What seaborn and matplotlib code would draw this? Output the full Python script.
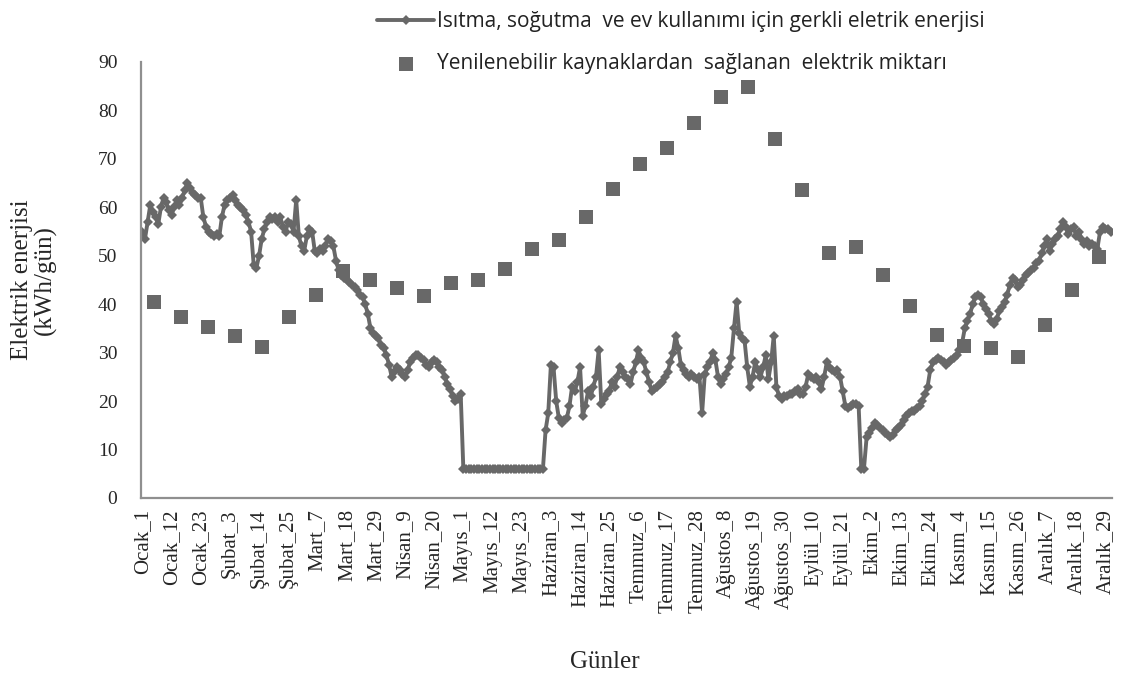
import numpy as np
import pandas as pd
import matplotlib
matplotlib.use("Agg")
import matplotlib.pyplot as plt
import seaborn as sns

# ─── Data ─────────────────────────────────────────────────────────────────────
MONTHS     = ["Ocak", "Şubat", "Mart", "Nisan", "Mayıs", "Haziran",
              "Temmuz", "Ağustos", "Eylül", "Ekim", "Kasım", "Aralık"]
MONTH_DAYS = [31, 29, 31, 30, 31, 30, 31, 31, 30, 31, 30, 31]

# daily electricity need for heating, cooling and household use (kWh/day)
ocak    = [55, 53.5, 57, 60.5, 59, 58, 56.5, 60, 62, 61, 59.5, 58.5, 60, 61.5, 60.5, 62,
           63.5, 65, 64, 63, 62.5, 62, 62, 58, 56, 55, 54.5, 54, 54.5, 54, 58]
subat   = [60.5, 61.5, 62, 62.5, 61.5, 60.5, 60, 59.5, 58.5, 57, 55, 48, 47.5, 50, 53.5,
           55.5, 57, 58, 57.5, 58, 57, 58, 56, 55, 57, 56.5, 55, 61.5, 54]
mart    = [52, 51, 54, 55.5, 55, 51, 50.5, 51.5, 51, 52, 53.5, 53, 52, 49, 47, 46, 45.5,
           45, 44.5, 44, 43.5, 43, 42, 41.5, 40, 38, 35, 34, 33.5, 33, 31.5]
nisan   = [31, 29.5, 27.5, 25, 26, 27, 26.5, 25.5, 25, 26.5, 28, 29, 29.5, 29.5, 29, 28.5,
           27.5, 27, 28, 28.5, 28, 27, 26.5, 25, 23.5, 22.5, 21, 20, 20.5, 21.5]
mayis   = [6] * 31
haziran = [14, 17.5, 27.5, 27, 20, 16.5, 15.5, 16, 16.5, 19, 23, 22, 24, 27, 17, 19, 22,
           21, 23, 25, 30.5, 19.5, 20.5, 21.5, 22, 24, 23, 25, 27, 26]
temmuz  = [25, 24.5, 23.5, 26, 28, 30.5, 29, 28, 26, 24, 22, 22.5, 23, 23.5, 24, 25, 26,
           28, 30, 33.5, 31, 27.5, 26.5, 25.5, 25, 25.5, 25, 24.5, 25, 17.5, 25.5]
agustos = [27, 28, 30, 28.5, 25, 23.5, 24.5, 25.5, 27, 29, 35, 40.5, 34, 33, 32.5, 27, 23,
           25, 28, 26.5, 25, 27, 29.5, 24.5, 28, 33.5, 23, 21, 20.5, 21, 21]
eylul   = [21.5, 21.5, 22, 22.5, 21.5, 21.5, 23, 25.5, 25, 24.5, 25, 24, 22.5, 25, 28, 27,
           26.5, 26, 26.5, 25, 22, 19, 18.5, 19, 19.5, 19.5, 19, 6, 6, 12.5]
ekim    = [13.5, 14.5, 15.5, 15, 14.5, 14, 13.5, 13, 12.5, 13, 14, 14.5, 15, 16, 17, 17.5,
           18, 18, 18.5, 19, 20, 21.5, 23, 26.5, 28, 28.5, 29, 28.5, 28, 27.5, 28]
kasim   = [28.5, 29, 29.5, 30.5, 32, 35, 36.5, 38, 40, 41.5, 42, 41.5, 40, 39, 38, 36.5, 36,
           37, 38.5, 39.5, 40.5, 42, 44, 45.5, 45, 43.5, 44, 45, 46, 46.5]
aralik  = [47, 47.5, 48.5, 49, 50.5, 52, 53.5, 51, 52.5, 53.5, 54, 55.5, 57, 56, 54.5, 55.5,
           56, 54, 55, 53.5, 52.5, 53, 52, 52.5, 52, 51.5, 55, 56, 55.5, 55.5, 55]

# electricity from renewable sources, one value per ten-day period (kWh/day)
renewable = [40.5, 37.3, 35.4, 33.4, 31.2, 37.4, 41.9, 46.9, 44.9, 43.3, 41.7, 44.3,
             45.1, 47.2, 51.3, 53.3, 58.1, 63.7, 68.9, 72.3, 77.4, 82.8, 84.8, 74.1,
             63.6, 50.6, 51.8, 46.0, 39.6, 33.6, 31.4, 30.9, 29.1, 35.7, 43.0, 49.8]

LABEL_DEMAND    = "Isıtma, soğutma  ve ev kullanımı için gerkli eletrik enerjisi"
LABEL_RENEWABLE = "Yenilenebilir kaynaklardan  sağlanan  elektrik miktarı"
TICK_STEP = 11
GREY = "#686868"

# ─── Build tables ─────────────────────────────────────────────────────────────
demand = ocak + subat + mart + nisan + mayis + haziran + temmuz + agustos + eylul + ekim + kasim + aralik
day_names = [f"{m}_{d}" for m, n in zip(MONTHS, MONTH_DAYS) for d in range(1, n + 1)]
n_days = len(day_names)

df_daily = pd.DataFrame({"day": np.arange(n_days), "kwh": demand})
# renewable series sits on its own 36-category axis spanning the same width
df_ren = pd.DataFrame({
    "day": (np.arange(len(renewable)) + 0.5) * n_days / len(renewable) - 0.5,
    "kwh": renewable,
})

# ─── Plot ─────────────────────────────────────────────────────────────────────
sns.set_style("white")
plt.rcParams["font.family"] = ["Liberation Serif", "DejaVu Serif"]

fig = plt.figure(figsize=(11.24, 6.98), dpi=100)
ax = fig.add_axes([141 / 1124, 200 / 698, 971 / 1124, 436 / 698])

sns.lineplot(data=df_daily, x="day", y="kwh", ax=ax, color=GREY, linewidth=2.8,
             marker="D", markersize=4.8, markeredgewidth=0, label=LABEL_DEMAND)
sns.scatterplot(data=df_ren, x="day", y="kwh", ax=ax, color=GREY, marker="s",
                s=110, linewidth=0, label=LABEL_RENEWABLE, zorder=3)

ax.set_xlim(-0.5, n_days - 0.5)
ax.set_ylim(0, 90)
ax.set_yticks(range(0, 91, 10))
ticks = list(range(0, n_days, TICK_STEP))
ax.set_xticks(ticks)
ax.set_xticklabels([day_names[t] for t in ticks], rotation=90)
ax.tick_params(axis="x", length=0, pad=8, labelsize=15)
ax.tick_params(axis="y", length=0, pad=17, labelsize=14)

for side in ["top", "right"]:
    ax.spines[side].set_visible(False)
for side in ["left", "bottom"]:
    ax.spines[side].set_color("#8f8f8f")
    ax.spines[side].set_linewidth(1.6)

ax.set_xlabel("Günler", fontsize=18)
ax.xaxis.set_label_coords(0.478, -0.35)
ax.set_ylabel("Elektrik enerjisi\n(kWh/gün)", fontsize=18, linespacing=1.0)
ax.yaxis.set_label_coords(-0.087, 0.5)

handles, labels = ax.get_legend_handles_labels()
ax.legend(handles, labels, loc="upper left", bbox_to_anchor=(366 / 1124, 1.0),
          bbox_transform=fig.transFigure, frameon=False, handlelength=2.7,
          handletextpad=0.15, labelspacing=1.0, borderaxespad=0.15,
          prop={"family": "Open Sans", "size": 15}, labelcolor="#222222")

fig.savefig("out.png", dpi=100)
